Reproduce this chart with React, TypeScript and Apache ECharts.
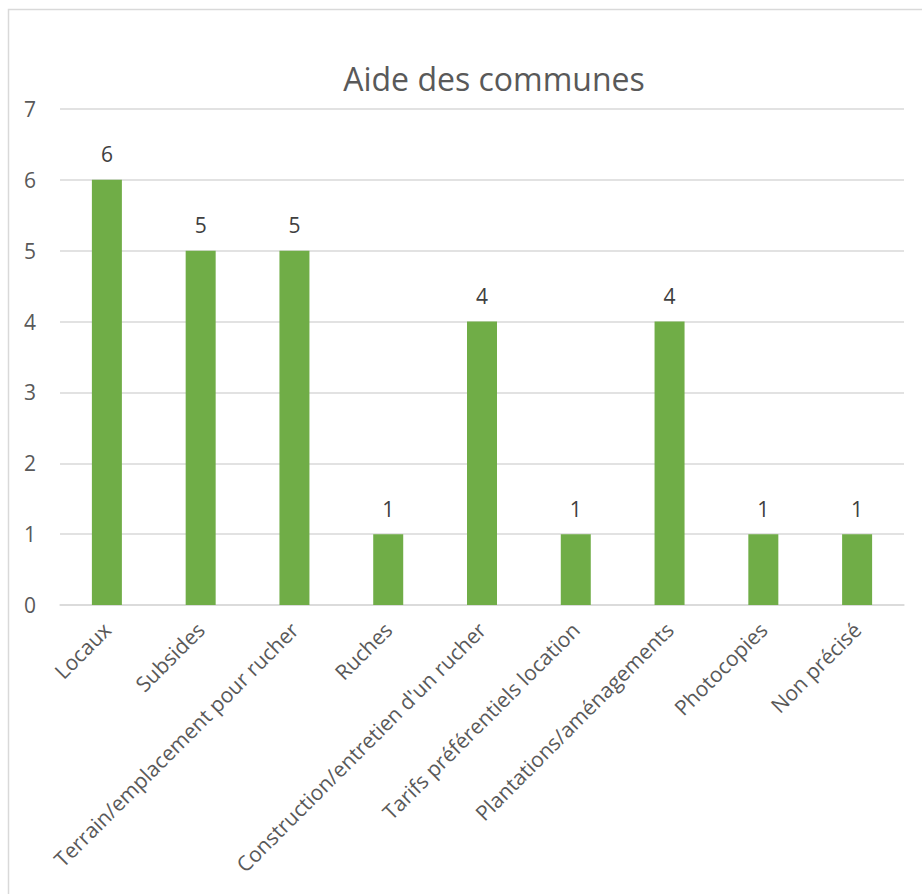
import React, { useEffect, useRef } from "react";
import * as echarts from "echarts";

const categories = [
  "Locaux",
  "Subsides",
  "Terrain/emplacement pour rucher",
  "Ruches",
  "Construction/entretien d'un rucher",
  "Tarifs préférentiels location",
  "Plantations/aménagements",
  "Photocopies",
  "Non précisé",
];
const values = [6, 5, 5, 1, 4, 1, 4, 1, 1];
const yTicks = { min: 0, max: 7, interval: 1 };
const title = "Aide des communes";

export default function App() {
  const ref = useRef<HTMLDivElement>(null);
  useEffect(() => {
    document.body.style.margin = "0";
    const chart = echarts.init(ref.current!, undefined, { renderer: "svg" });
    const font = "'Open Sans', 'Segoe UI', sans-serif";
    chart.setOption({
      animation: false,
      backgroundColor: "#ffffff",
      textStyle: { fontFamily: font },
      title: {
        text: title,
        left: 489,
        top: 57,
        textAlign: "center",
        textStyle: { fontFamily: font, fontSize: 32, fontWeight: "normal", color: "#595959" },
      },
      graphic: [
        {
          type: "rect",
          shape: { x: 8.5, y: 9.5, width: 1200, height: 1200 },
          style: { fill: "none", stroke: "#D9D9D9", lineWidth: 1.5 },
          silent: true,
        },
      ],
      grid: { left: 60, right: 18, top: 109, bottom: 289, containLabel: false },
      xAxis: {
        type: "category",
        data: categories,
        axisLine: { show: true, lineStyle: { color: "#D9D9D9", width: 1.5 } },
        axisTick: { show: false },
        axisLabel: {
          rotate: 45,
          interval: 0,
          margin: 21,
          fontSize: 21,
          color: "#595959",
          fontFamily: font,
        },
      },
      yAxis: {
        type: "value",
        min: yTicks.min,
        max: yTicks.max,
        interval: yTicks.interval,
        axisLine: { show: false },
        axisTick: { show: false },
        splitLine: { lineStyle: { color: "#D9D9D9", width: 1.5 } },
        axisLabel: { fontSize: 21, color: "#595959", margin: 24, fontFamily: font },
      },
      series: [
        {
          type: "bar",
          data: values,
          barWidth: 30,
          itemStyle: { color: "#70AD47" },
          label: {
            show: true,
            position: "top",
            distance: 15,
            fontSize: 21,
            color: "#404040",
            fontFamily: font,
          },
        },
      ],
    });
    return () => chart.dispose();
  }, []);
  return <div ref={ref} style={{ width: 922, height: 894, overflow: "hidden" }} />;
}
